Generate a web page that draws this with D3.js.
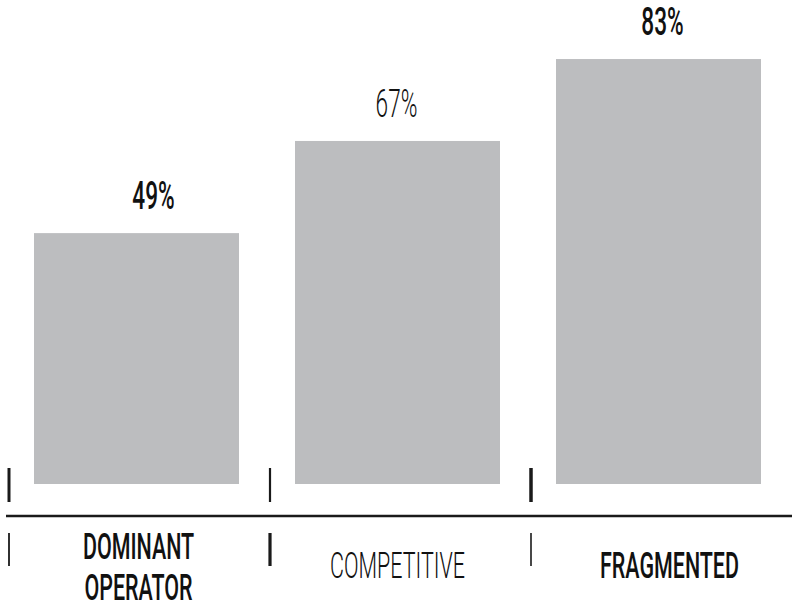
<!DOCTYPE html>
<html>
<head>
<meta charset="utf-8">
<script src="https://cdn.jsdelivr.net/npm/d3@7"></script>
<style>
  html, body { margin: 0; padding: 0; background: #fff; }
  svg { display: block; }
  text { font-family: Roboto, "Liberation Sans", sans-serif; fill: #111; }
</style>
</head>
<body>
<svg id="chart" width="792" height="605"></svg>
<script>
// ---- data ----
const categories = ["DOMINANT OPERATOR", "COMPETITIVE", "FRAGMENTED"];
const categoryLines = [["DOMINANT", "OPERATOR"], ["COMPETITIVE"], ["FRAGMENTED"]];
const values = [49, 67, 83];
const valueLabels = ["49%", "67%", "83%"];
const emphasis = [true, false, true];

// ---- layout ----
const W = 792, H = 605;
const baseline = 484;
const svg = d3.select("#chart");

const x = d3.scaleBand().domain(categories).range([9, 792]).paddingInner(0).paddingOuter(0);
const barInset = 25, barWidth = 205;
const y = d3.scaleLinear().domain([0, 100]).range([baseline, baseline - 512]);

const barColor = "#bcbdbf";
const sx = 0.58;

// bars
svg.selectAll("rect.bar").data(categories).join("rect")
  .attr("class", "bar")
  .attr("x", d => x(d) + barInset)
  .attr("width", barWidth)
  .attr("y", (d, i) => y(values[i]))
  .attr("height", (d, i) => y(0) - y(values[i]))
  .attr("fill", barColor);

// value labels
const valueNudge = [17, -1, 4];
svg.selectAll("text.val").data(categories).join("text")
  .attr("class", "val")
  .attr("transform", (d, i) => `translate(${x(d) + barInset + barWidth / 2 + valueNudge[i]},${y(values[i]) - 24}) scale(${sx},1)`)
  .attr("text-anchor", "middle")
  .attr("font-size", 39)
  .attr("font-weight", (d, i) => emphasis[i] ? 500 : 300)
  .text((d, i) => valueLabels[i]);

// horizontal axis line
svg.append("line")
  .attr("x1", 6).attr("x2", W)
  .attr("y1", 516).attr("y2", 516)
  .attr("stroke", "#1a1a1a").attr("stroke-width", 2.5);

// separators
const topW = [3, 2.2, 3.5], botW = [1.8, 3.2, 1.6];
svg.selectAll("line.sepTop").data(categories).join("line")
  .attr("class", "sepTop")
  .attr("x1", d => x(d)).attr("x2", d => x(d))
  .attr("y1", 468).attr("y2", 502)
  .attr("stroke", "#1a1a1a").attr("stroke-width", (d, i) => topW[i]);
svg.selectAll("line.sepBot").data(categories).join("line")
  .attr("class", "sepBot")
  .attr("x1", d => x(d)).attr("x2", d => x(d))
  .attr("y1", 533).attr("y2", 566)
  .attr("stroke", "#1a1a1a").attr("stroke-width", (d, i) => botW[i]);

// category labels
const catNudge = [2, 0, 11];
categories.forEach((c, i) => {
  const lines = categoryLines[i];
  const cx = x(c) + barInset + barWidth / 2 + catNudge[i];
  const firstBase = lines.length > 1 ? 559 : 578;
  lines.forEach((ln, j) => {
    svg.append("text")
      .attr("transform", `translate(${cx},${firstBase + j * 41}) scale(${sx},1)`)
      .attr("text-anchor", "middle")
      .attr("font-size", 37)
      .attr("font-weight", emphasis[i] ? 500 : 300)
      .text(ln);
  });
});
</script>
</body>
</html>
